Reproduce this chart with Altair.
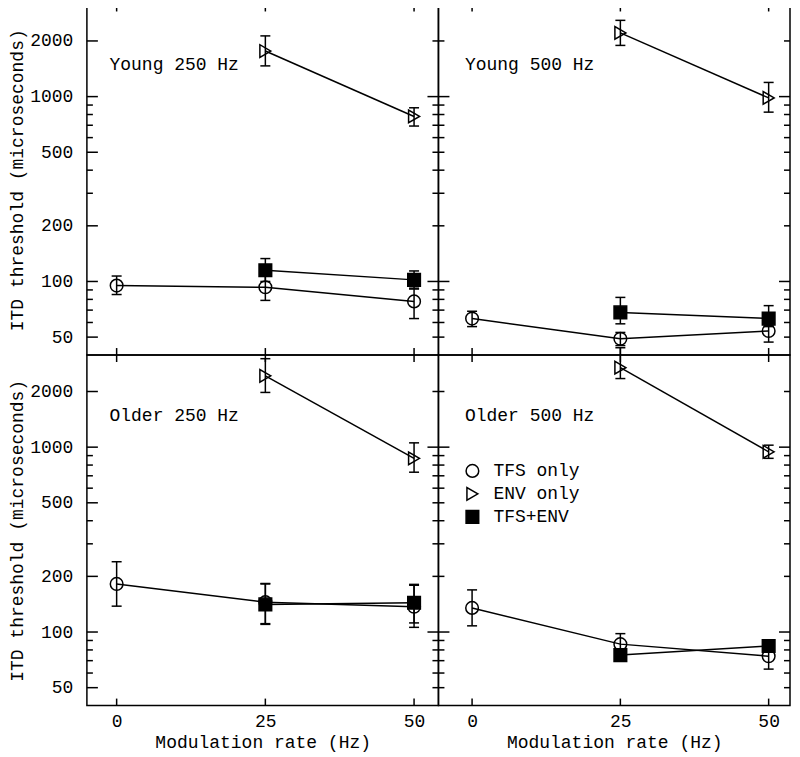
import altair as alt
import pandas as pd

# ---------------- data ----------------
panel_names = ["Young 250 Hz", "Young 500 Hz", "Older 250 Hz", "Older 500 Hz"]
series_names = ["TFS only", "ENV only", "TFS+ENV"]
series_shapes = ["circle", "triangle-right", "square"]
series_fills = ["transparent", "transparent", "black"]

rates_tfs = [0, 25, 50]
rates_mod = [25, 50]

# Young 250 Hz
young250_tfs = [95, 93, 78]
young250_tfs_lo = [85, 79, 63]
young250_tfs_hi = [107, 108, 91]
young250_env = [1764, 781]
young250_env_lo = [1466, 693]
young250_env_hi = [2130, 870]
young250_both = [115, 102]
young250_both_lo = [100, 92]
young250_both_hi = [133, 114]

# Young 500 Hz
young500_tfs = [63, 49, 54]
young500_tfs_lo = [57, 45, 47]
young500_tfs_hi = [69, 53, 58]
young500_env = [2210, 984]
young500_env_lo = [1892, 824]
young500_env_hi = [2585, 1193]
young500_both = [68, 63]
young500_both_lo = [59, 57]
young500_both_hi = [82, 74]

# Older 250 Hz
older250_tfs = [182, 145, 137]
older250_tfs_lo = [138, 111, 106]
older250_tfs_hi = [240, 182, 179]
older250_env = [2430, 870]
older250_env_lo = [1977, 732]
older250_env_hi = [3010, 1055]
older250_both = [141, 144]
older250_both_lo = [110, 112]
older250_both_hi = [183, 181]

# Older 500 Hz
older500_tfs = [135, 86, 74]
older500_tfs_lo = [108, 78, 63]
older500_tfs_hi = [169, 98, 82]
older500_env = [2690, 944]
older500_env_lo = [2350, 870]
older500_env_hi = [3450, 1025]
older500_both = [75, 84]
older500_both_lo = [72, 80]
older500_both_hi = [78, 88]

x_tick_values = [0, 25, 50]
y_label_values = [50, 100, 200, 500, 1000, 2000]
y_decade_values = [100, 1000]
y_all_tick_values = [50, 60, 70, 80, 90, 100, 200, 300, 400, 500,
                     600, 700, 800, 900, 1000, 2000]

panel_series = {
    "Young 250 Hz": [
        (young250_tfs, young250_tfs_lo, young250_tfs_hi, rates_tfs),
        (young250_env, young250_env_lo, young250_env_hi, rates_mod),
        (young250_both, young250_both_lo, young250_both_hi, rates_mod)],
    "Young 500 Hz": [
        (young500_tfs, young500_tfs_lo, young500_tfs_hi, rates_tfs),
        (young500_env, young500_env_lo, young500_env_hi, rates_mod),
        (young500_both, young500_both_lo, young500_both_hi, rates_mod)],
    "Older 250 Hz": [
        (older250_tfs, older250_tfs_lo, older250_tfs_hi, rates_tfs),
        (older250_env, older250_env_lo, older250_env_hi, rates_mod),
        (older250_both, older250_both_lo, older250_both_hi, rates_mod)],
    "Older 500 Hz": [
        (older500_tfs, older500_tfs_lo, older500_tfs_hi, rates_tfs),
        (older500_env, older500_env_lo, older500_env_hi, rates_mod),
        (older500_both, older500_both_lo, older500_both_hi, rates_mod)],
}

rows = []
for pname in panel_names:
    for sname, (vals, los, his, xs) in zip(series_names, panel_series[pname]):
        for r, v, lo, hi in zip(xs, vals, los, his):
            rows.append({"panel": pname, "series": sname, "rate": r,
                         "value": v, "lo": lo, "hi": hi})
df = pd.DataFrame(rows)

# ---------------- styling ----------------
FONT = "Liberation Mono"
FS = 18
W, H = 352, 351
XDOM_LEFT = [-5, 54.1]
XDOM_RIGHT = [-5.67, 53.6]
YDOM = [40, 3150]
MAJ, MIN, XT = 11, 6, 7

yscale = alt.Scale(type="log", domain=YDOM, nice=False)

legend = alt.Legend(title=None, orient="none", legendX=377, legendY=458,
                    labelFont=FONT, labelFontSize=FS, labelColor="black",
                    symbolSize=160, symbolStrokeWidth=1.5,
                    rowPadding=3, labelOffset=12, padding=0)
shape_scale = alt.Scale(domain=series_names, range=series_shapes)
fill_scale = alt.Scale(domain=series_names, range=series_fills)
stroke_scale = alt.Scale(domain=series_names, range=["black", "black", "black"])


def yenc(field, axis=None):
    return alt.Y(field, type="quantitative", scale=yscale, axis=axis)


def panel(pname, left_col, bottom_row):
    d = df[df.panel == pname]
    base = alt.Chart(d)
    xscale = alt.Scale(domain=XDOM_LEFT if left_col else XDOM_RIGHT,
                       nice=False, zero=False)

    def xenc(field, axis=None):
        return alt.X(field, type="quantitative", scale=xscale, axis=axis)

    def ytick_layer(values, x0, x1):
        return alt.Chart(pd.DataFrame({"v": values})).mark_rule(
            color="black", strokeWidth=1.5).encode(
            y=yenc("v"), x=alt.value(x0), x2=alt.value(x1))

    def xtick_layer(values, y0, y1):
        return alt.Chart(pd.DataFrame({"v": values})).mark_rule(
            color="black", strokeWidth=1.5).encode(
            x=xenc("v"), y=alt.value(y0), y2=alt.value(y1))

    left_major = y_label_values if left_col else y_decade_values
    left_minor = [v for v in y_all_tick_values if v not in left_major]
    right_minor = [v for v in y_all_tick_values if v not in y_decade_values]

    ticks = [
        ytick_layer(left_major, 0, MAJ),
        ytick_layer(left_minor, 0, MIN),
        ytick_layer(y_decade_values, W - MAJ, W),
        ytick_layer(right_minor, W - MIN, W),
        xtick_layer(x_tick_values, 0, XT),
        xtick_layer(x_tick_values, H - XT, H),
    ]

    ylab = None
    if left_col:
        ylab = alt.Axis(orient="left", values=y_label_values, ticks=False,
                        tickSize=0, domain=False, grid=False,
                        labelFont=FONT, labelFontSize=FS, labelColor="black",
                        labelPadding=14, format="d",
                        title="ITD threshold (microseconds)", titleFont=FONT,
                        titleFontSize=FS, titleFontWeight="normal",
                        titleColor="black", titlePadding=3)
    xlab = None
    if bottom_row:
        xlab = alt.Axis(orient="bottom", values=x_tick_values, ticks=False,
                        tickSize=0, domain=False, grid=False,
                        labelFont=FONT, labelFontSize=FS, labelColor="black",
                        labelPadding=7, labelAngle=0,
                        title="Modulation rate (Hz)", titleFont=FONT,
                        titleFontSize=FS, titleFontWeight="normal",
                        titleColor="black", titlePadding=3)

    rules = base.mark_rule(color="black", strokeWidth=1.5).encode(
        x=xenc("rate", xlab), y=yenc("lo", ylab), y2="hi")
    caps_lo = base.mark_tick(color="black", orient="horizontal", size=10,
                             thickness=1.5, opacity=1).encode(
        x=xenc("rate"), y=yenc("lo"))
    caps_hi = base.mark_tick(color="black", orient="horizontal", size=10,
                             thickness=1.5, opacity=1).encode(
        x=xenc("rate"), y=yenc("hi"))
    lines = base.mark_line(color="black", strokeWidth=1.5).encode(
        x=xenc("rate"), y=yenc("value"), detail="series:N")
    points = base.mark_point(opacity=1, size=160, strokeWidth=1.5).encode(
        x=xenc("rate"), y=yenc("value"),
        shape=alt.Shape("series:N", scale=shape_scale, legend=legend),
        fill=alt.Fill("series:N", scale=fill_scale, legend=legend),
        stroke=alt.Stroke("series:N", scale=stroke_scale, legend=legend))
    label = alt.Chart(pd.DataFrame({"label": [pname]})).mark_text(
        align="left", baseline="middle", font=FONT, fontSize=FS,
        color="black").encode(
        x=alt.XDatum(-1.2, type="quantitative", scale=xscale, axis=None),
        y=alt.YDatum(1480, type="quantitative", scale=yscale, axis=None),
        text="label:N")

    return alt.layer(rules, *ticks, caps_lo, caps_hi, lines, points, label).resolve_axis(
        x="independent", y="independent").properties(width=W, height=H)


chart = alt.concat(
    panel("Young 250 Hz", True, False),
    panel("Young 500 Hz", False, False),
    panel("Older 250 Hz", True, True),
    panel("Older 500 Hz", False, True),
    columns=2, spacing=0, bounds="flush",
).properties(
    padding={"left": 0, "top": -6, "right": 0, "bottom": 0},
    background="white"
).configure_view(
    stroke="black", strokeWidth=1.5
).configure_axis(
    grid=False
)

chart.save("out.html", embed_options={"renderer": "svg", "actions": False})
